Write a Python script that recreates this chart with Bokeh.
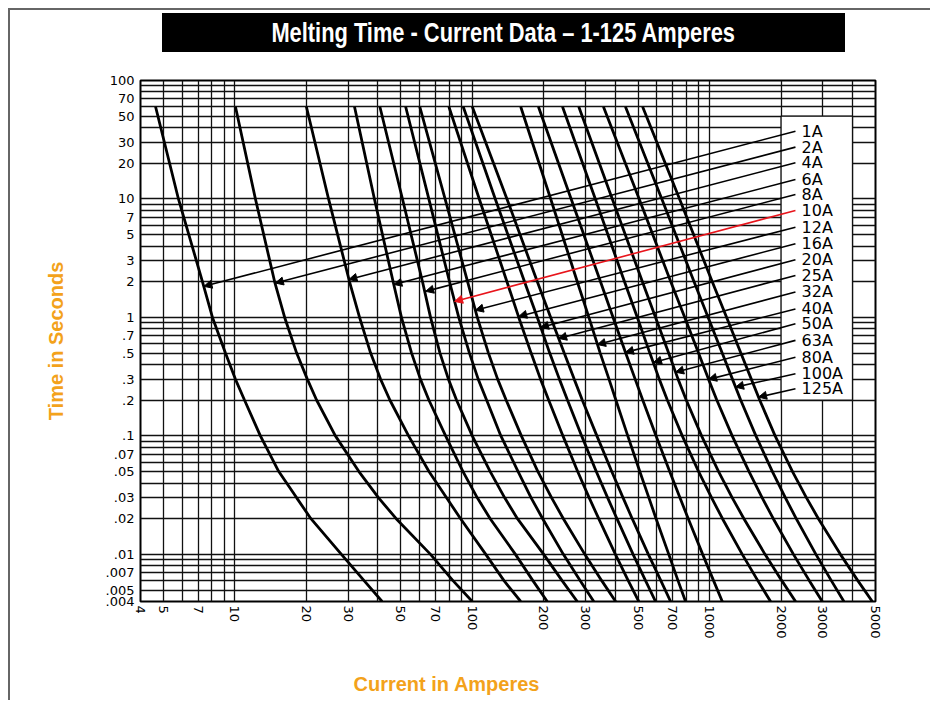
import math
from bokeh.plotting import figure
from bokeh.models import FixedTicker, Arrow, NormalHead, ColumnDataSource, Range1d, Div
from bokeh.layouts import column
from bokeh.embed import file_html
from bokeh.resources import INLINE
from bokeh.core.properties import value

TITLE = "Melting Time - Current Data \u2013 1-125 Amperes"
X_LABEL = "Current in Amperes"
Y_LABEL = "Time in Seconds"

ratings = ["1A", "2A", "4A", "6A", "8A", "10A", "12A", "16A", "20A",
           "25A", "32A", "40A", "50A", "63A", "80A", "100A", "125A"]

# melting time (s) at which each curve's current was read
times = [60, 10, 2, 1, 0.5, 0.3, 0.2, 0.1, 0.05, 0.03, 0.02, 0.01, 0.006, 0.004]

# current (A) of each curve at the times above
curve_1A = [4.63, 5.78, 7.30, 8.04, 9.12, 10.05, 10.98, 12.8, 15.3, 18.2, 20.9, 28.1, 35.0, 41.7]
curve_2A = [10.05, 12.2, 14.7, 16.2, 18.2, 20.2, 22.1, 26.5, 33.3, 40.3, 47.8, 66.7, 82.9, 100]
curve_4A = [20.0, 24.8, 30.4, 33.5, 37.3, 41.1, 45.0, 53.9, 65.7, 77.9, 89.3, 114, 136, 160]
curve_6A = [31.9, 38.7, 46.4, 50.3, 55.5, 60.5, 65.7, 77.2, 91.4, 105, 119, 152, 180, 207]
curve_8A = [40.8, 50.8, 61.7, 66.7, 73.1, 79.4, 85.9, 100, 119, 137, 155, 200, 239, 277]
curve_10A = [52.4, 65.6, 80.2, 87.7, 97.3, 106, 115, 132, 156, 177, 198, 242, 285, 325]
curve_12A = [60.1, 76.8, 95.6, 105, 117, 128, 139, 161, 189, 216, 242, 298, 351, 402]
curve_16A = [79.7, 107, 140, 157, 177, 194, 210, 241, 278, 311, 341, 401, 454, 503]
curve_20A = [91.6, 125, 166, 188, 212, 233, 252, 289, 333, 372, 407, 476, 537, 592]
curve_25A = [100, 140, 188, 214, 244, 269, 291, 335, 387, 432, 472, 552, 623, 685]
curve_32A = [160, 214, 277, 310, 346, 377, 403, 452, 508, 555, 595, 673, 736, 792]
curve_40A = [190, 261, 347, 392, 443, 486, 523, 595, 679, 750, 813, 935, 1039, 1131]
curve_50A = [240, 330, 438, 496, 560, 614, 664, 767, 899, 1020, 1133, 1373, 1596, 1807]
curve_63A = [281, 389, 521, 592, 672, 737, 798, 925, 1091, 1246, 1395, 1712, 2014, 2303]
curve_80A = [357, 505, 686, 786, 898, 990, 1073, 1245, 1466, 1666, 1855, 2256, 2631, 2983]
curve_100A = [442, 629, 860, 986, 1130, 1249, 1353, 1567, 1839, 2087, 2317, 2805, 3257, 3680]
curve_125A = [522, 747, 1026, 1180, 1354, 1500, 1627, 1888, 2235, 2560, 2874, 3557, 4211, 4848]

curves = [curve_1A, curve_2A, curve_4A, curve_6A, curve_8A, curve_10A,
          curve_12A, curve_16A, curve_20A, curve_25A, curve_32A, curve_40A,
          curve_50A, curve_63A, curve_80A, curve_100A, curve_125A]

# leader arrows: tip on each curve, and the time level of each label
arrow_I = [7.40, 14.8, 30.2, 46.7, 63.6, 84.2, 103, 157, 194, 231, 337,
           442, 580, 719, 990, 1286, 1608]
arrow_t = [1.83, 1.95, 2.09, 1.90, 1.66, 1.365, 1.15, 1.02, 0.823, 0.665,
           0.59, 0.507, 0.417, 0.345, 0.30, 0.258, 0.2125]
label_t = [37.3, 27.4, 20.2, 14.6, 10.9, 8.0, 5.78, 4.19, 3.07, 2.26, 1.64,
           1.18, 0.885, 0.64, 0.462, 0.335, 0.250]
highlight = "10A"

x_ticks = [4, 5, 7, 10, 20, 30, 50, 70, 100, 200, 300, 500, 700, 1000,
           2000, 3000, 5000]
x_tick_labels = ["4", "5", "7", "10", "20", "30", "50", "70", "100", "200",
                 "300", "500", "700", "1000", "2000", "3000", "5000"]
y_ticks = [100, 70, 50, 30, 20, 10, 7, 5, 3, 2, 1, 0.7, 0.5, 0.3, 0.2, 0.1,
           0.07, 0.05, 0.03, 0.02, 0.01, 0.007, 0.005, 0.004]
y_tick_labels = ["100", "70", "50", "30", "20", "10", "7", "5", "3", "2", "1",
                 ".7", ".5", ".3", ".2", ".1", ".07", ".05", ".03", ".02",
                 ".01", ".007", ".005", ".004"]

HEAD = "Liberation Sans"
PLAIN = "DejaVu Sans"
ORANGE = "#F3A21B"

# ---------- title bar (condensed look via horizontal scaling) ----------
title_html = ("<span style=\"display:inline-block; transform:scaleX(0.78); "
              "transform-origin:center;\">" + TITLE + "</span>")
title_div = Div(text=title_html, width=683, height=39, margin=(3, 0, 0, 152),
                styles={"background-color": "black", "color": "white",
                        "font-family": "'Liberation Sans', Arial, sans-serif",
                        "font-weight": "bold", "font-size": "28px",
                        "text-align": "center", "line-height": "39px",
                        "white-space": "nowrap", "overflow": "hidden"})

# ---------- main chart ----------
p = figure(frame_width=735, frame_height=521,
           x_axis_type="log", y_axis_type="log",
           x_range=Range1d(4, 5000), y_range=Range1d(0.004, 100),
           output_backend="svg", toolbar_location=None,
           min_border_left=130, min_border_right=55,
           min_border_top=28, min_border_bottom=99)
p.outline_line_color = "black"
p.outline_line_width = 2

p.xaxis.ticker = FixedTicker(ticks=x_ticks, minor_ticks=[])
p.yaxis.ticker = FixedTicker(ticks=y_ticks, minor_ticks=[])
p.xaxis.major_label_overrides = {t: s for t, s in zip(x_ticks, x_tick_labels)}
p.yaxis.major_label_overrides = {t: s for t, s in zip(y_ticks, y_tick_labels)}

x_grid = [n * 10 ** k for k in range(0, 4) for n in range(1, 10)
          if 4 <= n * 10 ** k <= 5000]
y_grid = [n * 10.0 ** k for k in range(-3, 3) for n in range(1, 10)
          if 0.004 <= n * 10.0 ** k <= 100]
p.xgrid.ticker = FixedTicker(ticks=x_grid, minor_ticks=[])
p.ygrid.ticker = FixedTicker(ticks=y_grid, minor_ticks=[])
for g in (p.xgrid, p.ygrid):
    g.grid_line_color = "#111111"
    g.grid_line_width = 1.3

for ax in (p.xaxis, p.yaxis):
    ax.axis_line_color = None
    ax.major_tick_out = 0
    ax.major_tick_in = 0
    ax.minor_tick_out = 0
    ax.minor_tick_in = 0
    ax.major_label_text_font = PLAIN
    ax.major_label_text_font_size = "13px"
    ax.major_label_text_color = "black"
    ax.axis_label_text_font = HEAD
    ax.axis_label_text_font_style = "bold"
    ax.axis_label_text_font_size = "20px"
    ax.axis_label_text_color = ORANGE

p.xaxis.major_label_orientation = -math.pi / 2
p.xaxis.major_label_standoff = 4
# trailing no-break spaces shift the centred label left, as in the original
p.xaxis.axis_label = X_LABEL + "\u00a0" * 22
p.xaxis.axis_label_standoff = 31
p.yaxis.major_label_standoff = 6
p.yaxis.axis_label = Y_LABEL
p.yaxis.axis_label_standoff = 36

# white panel behind the rating labels
p.quad(left=[2000], right=[4000], top=[50], bottom=[0.2],
       fill_color="white", line_color="#111111", line_width=1.3)

for c in curves:
    p.line(x=c, y=times, line_color="black", line_width=2.8)

LEADER_X = 2300
LABEL_X = 2440
black_idx = [i for i, r in enumerate(ratings) if r != highlight]
red_idx = [i for i, r in enumerate(ratings) if r == highlight]

for idx, col in ((black_idx, "black"), (red_idx, "#E8141B")):
    src = ColumnDataSource(dict(
        xs=[LEADER_X] * len(idx),
        ys=[label_t[i] for i in idx],
        xe=[arrow_I[i] for i in idx],
        ye=[arrow_t[i] for i in idx]))
    p.add_layout(Arrow(end=NormalHead(size=8, fill_color=col, line_color=col),
                       x_start="xs", y_start="ys", x_end="xe", y_end="ye",
                       source=src, line_color=col, line_width=1.6))

p.text(x=[LABEL_X] * len(ratings), y=label_t, text=ratings,
       text_align="left", text_baseline="middle", text_color="black",
       text_font=value(PLAIN), text_font_size="16px")

layout = column(title_div, p, margin=(8, 0, 0, 8),
                styles={"border-top": "2px solid #666666",
                        "border-left": "2px solid #666666"})

open("out.html", "w").write(file_html(layout, INLINE))
